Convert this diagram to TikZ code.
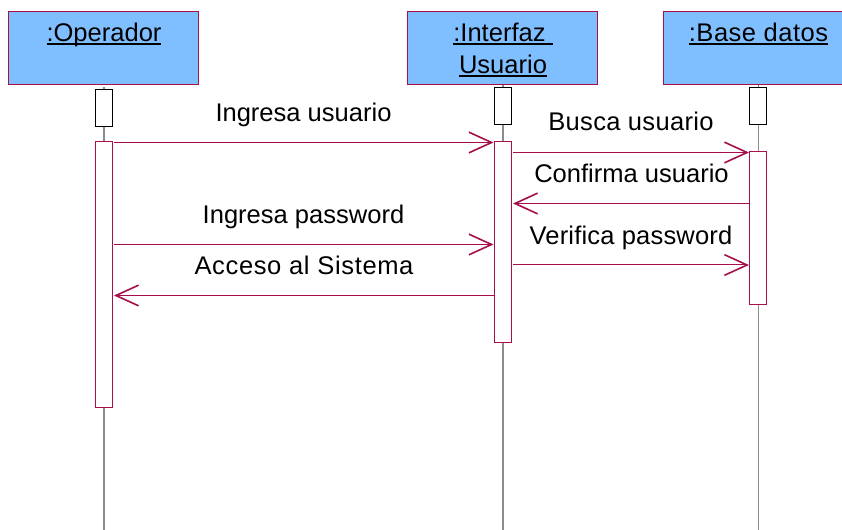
\documentclass[tikz,border=0pt]{standalone}
\usepackage{fontspec}
\setmainfont{Liberation Sans}
\usetikzlibrary{arrows.meta}
\definecolor{umlline}{HTML}{A50F4B}
\definecolor{umlfill}{HTML}{80BFFF}
\definecolor{lifegray}{HTML}{8C8C8C}
\newcommand\umlul[1]{\leavevmode\setbox0=\hbox{#1}\rlap{\rule[-2.1pt]{\wd0}{1pt}}\box0 }
\tikzset{
  x=0.75pt,y=-0.75pt,
  actor/.style={draw=umlline,fill=umlfill,line width=0.9pt,minimum height=54.75pt,inner sep=0pt,anchor=north west},
  small/.style={draw=black,fill=white,line width=0.7pt,minimum width=12.75pt,minimum height=27.5pt,inner sep=0pt,anchor=north west},
  act/.style={draw=umlline,fill=white,line width=0.85pt,minimum width=12.75pt,inner sep=0pt,anchor=north west},
  life/.style={draw=lifegray,line width=0.9pt},
  msg/.style={draw=umlline,line width=0.75pt,-{Straight Barb[length=17pt,width=15.5pt,line width=1.2pt]}},
  txt/.style={font=\fontsize{19.15pt}{24pt}\selectfont,text=black,inner sep=0pt,anchor=base},
  title/.style={font=\fontsize{19.15pt}{24pt}\selectfont,text=black,inner sep=0pt,align=center,anchor=base}
}
\begin{document}
\begin{tikzpicture}
\useasboundingbox (0,0) rectangle (842,530);
% lifelines
\coordinate (endA) at (104,530);
\coordinate (endB) at (503,530);
\coordinate (endC) at (758.5,530);
\coordinate (topA) at (104,87);
\coordinate (topB) at (503,84);
\coordinate (topC) at (758.5,84);
\draw[life] (topA) -- (endA);
\draw[life] (topB) -- (endB);
\draw[life] (topC) -- (endC);
% actors
\node[actor,minimum width=142.5pt] (boxA) at (8,11) {};
\node[actor,minimum width=142.5pt] (boxB) at (407,11) {};
\node[actor,minimum width=142.5pt] (boxC) at (663,11) {};
\node[title] (tA) at (104,42) {\umlul{:Operador}};
\node[title] (tB) at (503,74) {\umlul{:Interfaz\ }\\\umlul{Usuario}};
\node[title] (tC) at (758.5,42) {\umlul{\addfontfeature{LetterSpace=1.9}:Base datos}};
% small boxes
\node[small] (sA) at (94.5,89.5) {};
\node[small] (sB) at (493.5,87) {};
\node[small] (sC) at (749,87) {};
% activations
\node[act,minimum height=199.5pt] (aA) at (94.5,141) {};
\node[act,minimum height=150.75pt] (aB) at (493.5,141) {};
\node[act,minimum height=114.75pt] (aC) at (749,151) {};
% message ends
\coordinate (m1s) at (114,142.5);   \coordinate (m1e) at (493.5,142.5);
\coordinate (m2s) at (513,152.5); \coordinate (m2e) at (749,152.5);
\coordinate (m3s) at (749,203.5); \coordinate (m3e) at (513,203.5);
\coordinate (m4s) at (114,244.5);   \coordinate (m4e) at (493.5,244.5);
\coordinate (m5s) at (513,265);   \coordinate (m5e) at (749,265);
\coordinate (m6s) at (493.5,295.5); \coordinate (m6e) at (114,295.5);
\draw[msg] (m1s) -- (m1e);
\draw[msg] (m2s) -- (m2e);
\draw[msg] (m3s) -- (m3e);
\draw[msg] (m4s) -- (m4e);
\draw[msg] (m5s) -- (m5e);
\draw[msg] (m6s) -- (m6e);
% labels
\node[txt] (l1) at (303.5,122) {Ingresa usuario};
\node[txt] (l2) at (631,131) {\addfontfeature{LetterSpace=1.3}Busca usuario};
\node[txt] (l3) at (631.5,183) {Confirma usuario};
\node[txt] (l4) at (303.5,224) {Ingresa password};
\node[txt] (l5) at (631,244.5) {\addfontfeature{LetterSpace=0.7}Verifica password};
\node[txt] (l6) at (304,275) {\addfontfeature{LetterSpace=2.5}Acceso al Sistema};
\end{tikzpicture}
\end{document}
